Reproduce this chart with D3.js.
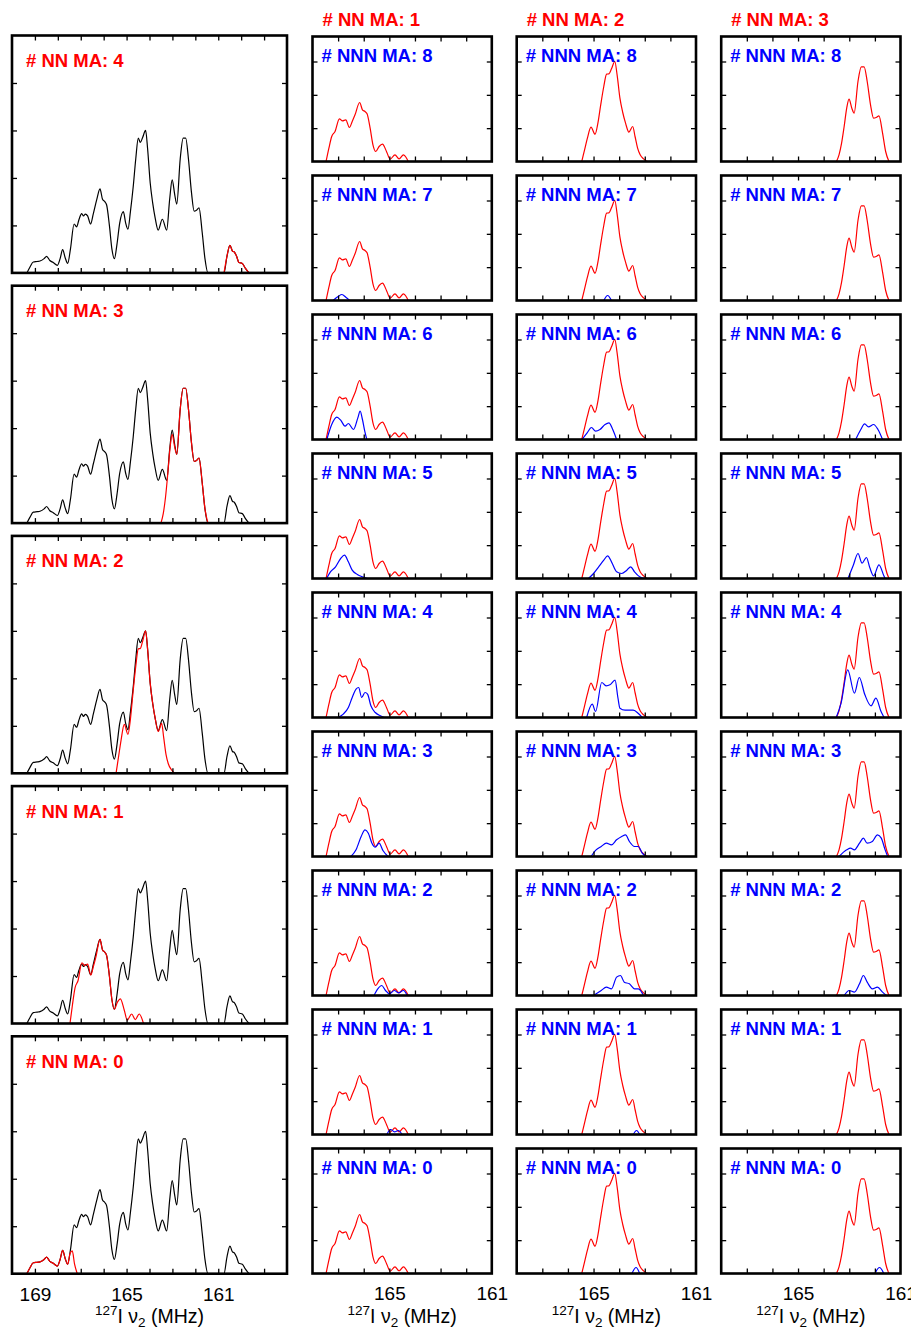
<!DOCTYPE html>
<html>
<head>
<meta charset="utf-8">
<script src="https://cdn.jsdelivr.net/npm/d3@7"></script>
<style>
  body { margin: 0; background: #fff; }
  svg { display: block; }
</style>
</head>
<body>
<svg id="fig" width="911" height="1335"></svg>
<script>
// ---------------------------------------------------------------
// 127I nu2 NQR spectra: total (black), split by number of nearest
// neighbour MA cations (red) and next-nearest neighbour MA (blue).
// Points are [frequency MHz, intensity].
// ---------------------------------------------------------------

// Total spectrum
const totalSpectrum = [
  [169.35,0],[169.22,0.12],[169.07,0.23],[168.9,0.24],[168.78,0.25],[168.6,0.3],[168.49,0.35],
  [168.35,0.26],[168.2,0.22],[168.02,0.16],[167.9,0.3],[167.79,0.49],[167.68,0.32],[167.57,0.2],
  [167.45,0.5],[167.29,1.03],[167.18,0.97],[167.08,1.12],[166.96,1.25],[166.88,1.2],[166.8,1.24],
  [166.7,1.2],[166.57,1.03],[166.45,1.25],[166.3,1.55],[166.16,1.77],[166.05,1.55],[165.95,1.5],
  [165.87,1.43],[165.75,1.0],[165.64,0.5],[165.53,0.3],[165.42,0.6],[165.3,1.05],[165.14,1.29],
  [165.04,1.05],[164.94,0.92],[164.83,1.3],[164.71,1.82],[164.6,2.4],[164.49,2.84],[164.4,2.75],
  [164.3,2.85],[164.17,3.0],[164.08,2.6],[163.97,1.9],[163.86,1.47],[163.75,1.15],[163.62,0.9],
  [163.44,1.13],[163.25,0.9],[163.12,1.55],[163.01,1.96],[162.9,1.65],[162.81,1.45],[162.66,2.4],
  [162.53,2.84],[162.42,2.84],[162.3,2.4],[162.17,1.7],[162.05,1.3],[161.95,1.32],[161.84,1.37],
  [161.7,0.85],[161.58,0.3],[161.45,0],[160.75,0],[160.62,0.35],[160.49,0.58],[160.38,0.46],
  [160.3,0.44],[160.2,0.35],[160.1,0.22],[159.95,0.2],[159.82,0.1],[159.66,0]
];

// Components by number of NN MA
const nnMA0 = [
  [169.35,0],[169.22,0.12],[169.07,0.23],[168.9,0.24],[168.78,0.25],[168.6,0.3],[168.49,0.35],
  [168.35,0.26],[168.2,0.22],[168.02,0.16],[167.9,0.3],[167.79,0.49],[167.68,0.32],[167.57,0.2],
  [167.47,0.42],[167.37,0.48],[167.27,0.2],[167.15,0]
];
const nnMA1 = [
  [167.47,0],[167.36,0.4],[167.25,0.75],[167.12,0.9],[166.95,1.28],[166.83,1.22],[166.7,1.25],
  [166.56,1.02],[166.45,1.2],[166.34,1.4],[166.16,1.77],[166.05,1.55],[165.95,1.5],[165.87,1.43],
  [165.75,1.0],[165.64,0.5],[165.53,0.3],[165.4,0.45],[165.27,0.52],[165.1,0.28],[164.97,0.07],
  [164.78,0.2],[164.62,0.08],[164.45,0.2],[164.26,0]
];
const nnMA2 = [
  [165.46,0],[165.35,0.35],[165.24,0.7],[165.1,1.03],[164.94,0.82],[164.83,1.15],[164.72,1.7],
  [164.6,2.25],[164.49,2.62],[164.4,2.63],[164.3,2.78],[164.17,3.0],[164.08,2.6],[163.97,1.9],
  [163.86,1.47],[163.75,1.15],[163.62,0.88],[163.47,1.05],[163.38,0.75],[163.28,0.4],
  [163.18,0.2],[163.05,0.08],[162.9,0]
];
const nnMA3 = [
  [163.5,0],[163.4,0.2],[163.3,0.55],[163.2,1.05],[163.1,1.6],[163.01,1.87],[162.9,1.6],
  [162.81,1.45],[162.66,2.4],[162.53,2.84],[162.42,2.84],[162.3,2.4],[162.17,1.7],[162.05,1.3],
  [161.95,1.32],[161.84,1.37],[161.7,0.85],[161.58,0.3],[161.45,0]
];
const nnMA4 = [
  [160.75,0],[160.62,0.35],[160.49,0.58],[160.38,0.46],[160.3,0.44],[160.2,0.35],[160.1,0.22],
  [159.95,0.2],[159.82,0.1],[159.66,0]
];

// NN MA = 1, split by NNN MA
const nn1_nnn8 = [];
const nn1_nnn7 = [[167.2,0],[167.0,0.12],[166.85,0.18],[166.7,0.1],[166.55,0]];
const nn1_nnn6 = [[167.44,0],[167.25,0.45],[167.05,0.67],[166.9,0.58],[166.73,0.4],[166.6,0.48],
  [166.4,0.3],[166.23,0.65],[166.14,0.85],[166.05,0.6],[165.96,0.25],[165.88,0]];
const nn1_nnn5 = [[167.45,0],[167.3,0.2],[167.1,0.35],[166.9,0.6],[166.75,0.7],[166.6,0.5],
  [166.45,0.25],[166.25,0.12],[166.05,0.05],[165.85,0]];
const nn1_nnn4 = [[167.0,0],[166.8,0.1],[166.6,0.3],[166.45,0.6],[166.3,0.85],[166.2,0.9],
  [166.08,0.6],[165.95,0.75],[165.85,0.7],[165.72,0.35],[165.55,0.15],[165.35,0.05],[165.2,0]];
const nn1_nnn3 = [[166.5,0],[166.3,0.2],[166.1,0.6],[165.95,0.8],[165.82,0.7],[165.68,0.4],
  [165.55,0.28],[165.4,0.4],[165.25,0.18],[165.05,0]];
const nn1_nnn2 = [[165.6,0],[165.45,0.2],[165.3,0.3],[165.15,0.15],[165.0,0.05],[164.8,0.15],
  [164.65,0.08],[164.45,0.15],[164.3,0]];
const nn1_nnn1 = [[165.1,0],[164.95,0.15],[164.8,0.08],[164.65,0.12],[164.5,0]];
const nn1_nnn0 = [];

// NN MA = 2, split by NNN MA
const nn2_nnn8 = [];
const nn2_nnn7 = [[164.6,0],[164.45,0.15],[164.3,0]];
const nn2_nnn6 = [[165.45,0],[165.25,0.2],[165.08,0.36],[164.92,0.25],[164.75,0.3],[164.55,0.45],
  [164.4,0.5],[164.25,0.3],[164.1,0]];
const nn2_nnn5 = [[165.2,0],[165.0,0.15],[164.8,0.35],[164.6,0.55],[164.45,0.68],[164.3,0.5],
  [164.1,0.2],[163.9,0.15],[163.7,0.25],[163.55,0.35],[163.4,0.2],[163.2,0.05],[163.0,0]];
const nn2_nnn4 = [[165.27,0],[165.05,0.4],[164.92,0.18],[164.68,1.05],[164.51,0.95],[164.36,0.98],
  [164.16,1.12],[164.05,0.6],[163.97,0.28],[163.77,0.22],[163.45,0.22],[163.25,0.12],[163.1,0]];
const nn2_nnn3 = [[165.1,0],[164.9,0.2],[164.7,0.3],[164.5,0.4],[164.3,0.35],[164.1,0.5],
  [163.9,0.6],[163.75,0.65],[163.6,0.45],[163.4,0.3],[163.25,0.3],[163.1,0.1],[162.95,0]];
const nn2_nnn2 = [[165.0,0],[164.7,0.15],[164.5,0.25],[164.3,0.2],[164.1,0.55],[163.95,0.6],
  [163.8,0.4],[163.6,0.35],[163.4,0.2],[163.25,0.2],[163.05,0]];
const nn2_nnn1 = [[163.45,0],[163.32,0.12],[163.2,0]];
const nn2_nnn0 = [[163.5,0],[163.34,0.18],[163.2,0]];

// NN MA = 3, split by NNN MA
const nn3_nnn8 = [];
const nn3_nnn7 = [];
const nn3_nnn6 = [[162.75,0],[162.55,0.3],[162.4,0.47],[162.25,0.38],[162.05,0.45],[161.88,0.3],[161.7,0]];
const nn3_nnn5 = [[163.05,0],[162.85,0.38],[162.66,0.75],[162.5,0.46],[162.33,0.63],[162.2,0.33],
  [162.05,0.08],[161.84,0.41],[161.65,0.08],[161.6,0]];
const nn3_nnn4 = [[163.51,0],[163.32,0.43],[163.06,1.43],[162.8,0.73],[162.61,1.2],[162.39,0.68],
  [162.15,0.35],[161.96,0.58],[161.76,0.18],[161.64,0]];
const nn3_nnn3 = [[163.4,0],[163.1,0.2],[162.95,0.25],[162.8,0.2],[162.6,0.4],[162.45,0.55],
  [162.3,0.4],[162.1,0.45],[161.9,0.65],[161.75,0.55],[161.6,0.2],[161.5,0]];
const nn3_nnn2 = [[163.2,0],[163.0,0.15],[162.8,0.1],[162.6,0.35],[162.45,0.6],[162.3,0.4],
  [162.1,0.2],[161.9,0.25],[161.7,0.1],[161.55,0]];
const nn3_nnn1 = [];
const nn3_nnn0 = [[162.0,0],[161.82,0.18],[161.65,0]];

// Panel ordering and axis ticks
const leftColumnNN = [4, 3, 2, 1, 0];
const gridColumnNN = [1, 2, 3];
const gridRowNNN = [8, 7, 6, 5, 4, 3, 2, 1, 0];
const bigXTicks = [169,168,167,166,165,164,163,162,161,160,159];
const bigXLabels = [169, 165, 161];
const smallXTicks = [167,166,165,164,163,162];
const smallXLabels = [165, 161];
const bigYTicks = [1, 2, 3, 4];
const smallYTicks = [1, 2, 3];

// lookup tables built from the arrays above
const nnSeries = {0: nnMA0, 1: nnMA1, 2: nnMA2, 3: nnMA3, 4: nnMA4};
const nnnSeries = {
  1: {8: nn1_nnn8, 7: nn1_nnn7, 6: nn1_nnn6, 5: nn1_nnn5, 4: nn1_nnn4, 3: nn1_nnn3, 2: nn1_nnn2, 1: nn1_nnn1, 0: nn1_nnn0},
  2: {8: nn2_nnn8, 7: nn2_nnn7, 6: nn2_nnn6, 5: nn2_nnn5, 4: nn2_nnn4, 3: nn2_nnn3, 2: nn2_nnn2, 1: nn2_nnn1, 0: nn2_nnn0},
  3: {8: nn3_nnn8, 7: nn3_nnn7, 6: nn3_nnn6, 5: nn3_nnn5, 4: nn3_nnn4, 3: nn3_nnn3, 2: nn3_nnn2, 1: nn3_nnn1, 0: nn3_nnn0}
};

// ---------------------------------------------------------------
const FONT = '"Liberation Sans", Arial, Helvetica, sans-serif';
const RED = '#ff0000';
const BLUE = '#0000ff';
const svg = d3.select('#fig');

const big = {left: 12, width: 275, top0: 35.5, step: 250.2, height: 237.4, domain: [170, 158], yMax: 5};
const small = {lefts: [312.5, 516.7, 721.2], width: 179.3, top0: 36.5, step: 139.0, height: 125, domain: [168, 161], yMax: 3.75};

let clipId = 0;

function drawPanel(cfg) {
  const {left, top, width, height, domain, yMax, xTicks, yTicks, curves, label, labelColor, labelDx, labelDy, xLabels} = cfg;
  const x = d3.scaleLinear().domain(domain).range([left, left + width]);
  const y = d3.scaleLinear().domain([0, yMax]).range([top + height, top]);
  const g = svg.append('g');

  const id = 'clip' + (clipId++);
  g.append('clipPath').attr('id', id)
    .append('rect').attr('x', left).attr('y', top).attr('width', width).attr('height', height);

  const line = d3.line().x(d => x(d[0])).y(d => y(d[1])).curve(d3.curveMonotoneX);
  const plot = g.append('g').attr('clip-path', `url(#${id})`);
  curves.forEach(c => {
    if (!c.data.length) return;
    plot.append('path').datum(c.data)
      .attr('d', line).attr('fill', 'none')
      .attr('stroke', c.color).attr('stroke-width', 1.2)
      .attr('stroke-linejoin', 'round');
  });

  // inward ticks on all four sides
  const tickLen = 5;
  const axes = [
    [d3.axisBottom(x).tickValues(xTicks), `translate(0,${top + height})`],
    [d3.axisTop(x).tickValues(xTicks), `translate(0,${top})`],
    [d3.axisLeft(y).tickValues(yTicks), `translate(${left},0)`],
    [d3.axisRight(y).tickValues(yTicks), `translate(${left + width},0)`]
  ];
  axes.forEach(([ax, tr]) => {
    const a = g.append('g').attr('transform', tr)
      .call(ax.tickSize(-tickLen).tickFormat(''));
    a.select('.domain').remove();
    a.selectAll('line').attr('stroke', '#000').attr('stroke-width', 1.3);
  });

  g.append('rect').attr('x', left).attr('y', top).attr('width', width).attr('height', height)
    .attr('fill', 'none').attr('stroke', '#000').attr('stroke-width', 2.6);

  g.append('text').attr('x', left + labelDx).attr('y', top + labelDy)
    .attr('fill', labelColor).style('font-family', FONT).style('font-size', '18.5px')
    .style('font-weight', 'bold').text(label);

  if (xLabels) {
    const a = g.append('g').attr('transform', `translate(0,${top + height})`)
      .call(d3.axisBottom(x).tickValues(xLabels).tickSize(0).tickPadding(13.5).tickFormat(d3.format('d')));
    a.select('.domain').remove();
    a.selectAll('text').style('font-family', FONT).style('font-size', '19px').attr('fill', '#000');
    axisTitle((left + left + width) / 2, top + height + 49.5);
  }
}

function axisTitle(cx, baseline) {
  const t = svg.append('text').attr('x', cx).attr('y', baseline).attr('text-anchor', 'middle')
    .style('font-family', FONT).style('font-size', '19.5px').attr('fill', '#000');
  t.append('tspan').style('font-size', '13.5px').attr('dy', -8).text('127');
  t.append('tspan').attr('dy', 8).text('I \u03bd');
  t.append('tspan').style('font-size', '13.5px').attr('dy', 4).text('2');
  t.append('tspan').attr('dy', -4).text(' (MHz)');
}

// left column: total spectrum with each NN MA component
leftColumnNN.forEach((nn, i) => {
  drawPanel({
    left: big.left, top: big.top0 + i * big.step, width: big.width, height: big.height,
    domain: big.domain, yMax: big.yMax, xTicks: bigXTicks, yTicks: bigYTicks,
    curves: [{data: totalSpectrum, color: '#000'}, {data: nnSeries[nn], color: RED}],
    label: `# NN MA: ${nn}`, labelColor: RED, labelDx: 14, labelDy: 31.5,
    xLabels: i === leftColumnNN.length - 1 ? bigXLabels : null
  });
});

// grid: NN MA component with its NNN MA split
gridColumnNN.forEach((nn, c) => {
  const left = small.lefts[c];
  svg.append('text').attr('x', left + 10).attr('y', 25.7)
    .attr('fill', RED).style('font-family', FONT).style('font-size', '18.5px')
    .style('font-weight', 'bold').text(`# NN MA: ${nn}`);
  gridRowNNN.forEach((nnn, r) => {
    drawPanel({
      left, top: small.top0 + r * small.step, width: small.width, height: small.height,
      domain: small.domain, yMax: small.yMax, xTicks: smallXTicks, yTicks: smallYTicks,
      curves: [{data: nnSeries[nn], color: RED}, {data: nnnSeries[nn][nnn], color: BLUE}],
      label: `# NNN MA: ${nnn}`, labelColor: BLUE, labelDx: 9, labelDy: 25.8,
      xLabels: r === gridRowNNN.length - 1 ? smallXLabels : null
    });
  });
});
</script>
</body>
</html>
